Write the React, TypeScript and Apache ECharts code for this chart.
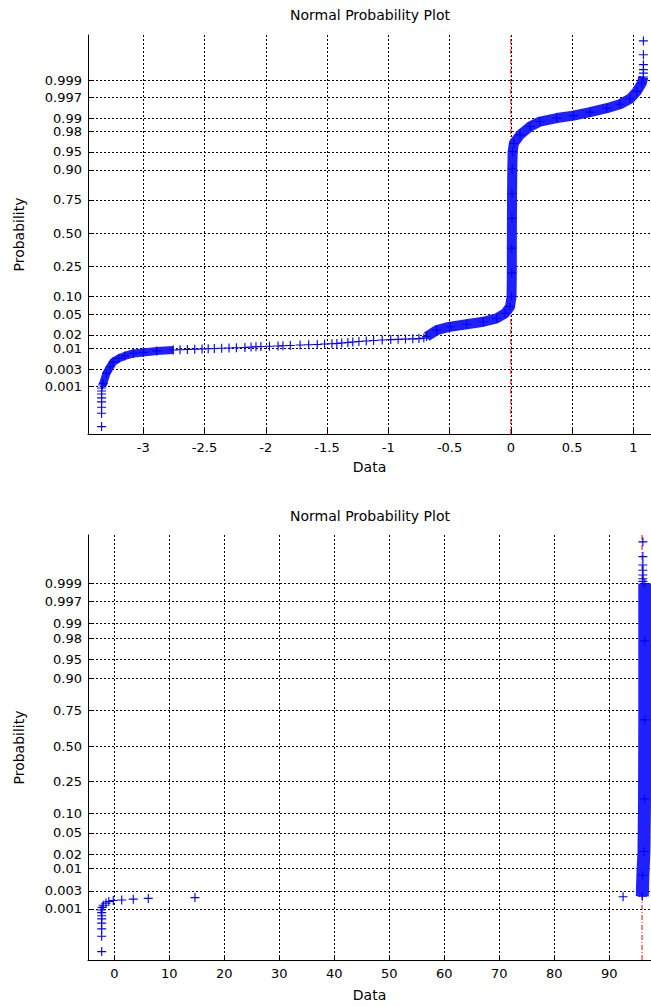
import React, { useEffect, useRef } from "react";
import * as echarts from "echarts";

// ---------- axis ticks ----------
const probLabels = ["0.001", "0.003", "0.01", "0.02", "0.05", "0.10", "0.25", "0.50", "0.75", "0.90", "0.95", "0.98", "0.99", "0.997", "0.999"];
const xTicks1 = [-3, -2.5, -2, -1.5, -1, -0.5, 0, 0.5, 1];
const xTicks2 = [0, 10, 20, 30, 40, 50, 60, 70, 80, 90];

// ---------- chart 1 data (data value, normal quantile of plotting position) ----------
const sparse1Data = [
  -3.34, -3.34, -3.34, -3.34, -3.34, -3.34, -3.34, -3.34,
  -2.70, -2.64, -2.58, -2.52, -2.47, -2.42, -2.36, -2.30, -2.24, -2.17, -2.12, -2.08, -2.04, -1.97,
  -1.90, -1.86, -1.80, -1.72, -1.65, -1.58, -1.52, -1.46, -1.42, -1.38, -1.33, -1.29, -1.24, -1.18,
  -1.12, -1.05, -0.98, -0.92, -0.86, -0.80, -0.75, -0.71,
  1.082, 1.082, 1.082, 1.082, 1.082,
];
const sparse1Q = [
  -3.91, -3.64, -3.52, -3.41, -3.33, -3.25, -3.19, -3.13,
  -2.355, -2.35, -2.345, -2.34, -2.335, -2.33, -2.325, -2.32, -2.315, -2.31, -2.30, -2.295, -2.29, -2.285,
  -2.28, -2.275, -2.27, -2.26, -2.255, -2.25, -2.24, -2.235, -2.23, -2.22, -2.21, -2.20, -2.19, -2.18,
  -2.17, -2.16, -2.15, -2.145, -2.14, -2.135, -2.13, -2.12,
  3.24, 3.31, 3.41, 3.61, 3.89,
];
const dense1aData = [-3.333, -3.327, -3.30, -3.27, -3.245, -3.20, -3.15, -3.08, -3.00, -2.89, -2.755];
const dense1aQ = [-3.07, -3.04, -2.83, -2.70, -2.60, -2.53, -2.48, -2.43, -2.41, -2.38, -2.36];
const dense1bData = [
  -0.687, -0.605, -0.496, -0.36, -0.224, -0.115, -0.047, -0.007, 0.006, 0.008, 0.008, 0.009, 0.010,
  0.012, 0.015, 0.025, 0.075, 0.157, 0.238, 0.375, 0.51, 0.647, 0.783, 0.89, 0.973, 1.028, 1.069, 1.082,
];
const dense1bQ = [
  -2.09, -1.96, -1.89, -1.84, -1.79, -1.72, -1.62, -1.485, -1.28, -0.8, -0.3, 0.3, 0.8,
  1.3, 1.65, 1.82, 1.99, 2.16, 2.26, 2.33, 2.38, 2.45, 2.53, 2.61, 2.72, 2.87, 3.04, 3.16,
];
const refLine1X = 0.0;

// ---------- chart 2 data ----------
const sparse2Data = [
  -2.29, -2.29, -2.29, -2.29, -2.29, -2.29, -2.29,
  -2.4, -2.2, -2.0, -1.5, -1.0, -0.18, 1.35, 3.45, 6.18, 14.67, 92.5,
  96.1, 96.1, 96.1, 96.1, 96.1, 96.1, 96.1,
];
const sparse2Q = [
  -3.90, -3.61, -3.47, -3.36, -3.28, -3.22, -3.16,
  -3.11, -3.06, -3.02, -2.98, -2.95, -2.93, -2.92, -2.905, -2.89, -2.875, -2.86,
  3.13, 3.18, 3.25, 3.34, 3.44, 3.60, 3.88,
];
const dense2Data = [96.0, 96.1, 96.3, 96.4, 96.45, 96.45, 96.45];
const dense2Q = [-2.85, -2.45, -2.0, -1.0, 0.5, 2.0, 3.09];
const refLine2X = 95.95;

// ---------- helpers ----------
function norminv(p: number): number {
  const a = [-3.969683028665376e1, 2.209460984245205e2, -2.759285104469687e2, 1.38357751867269e2, -3.066479806614716e1, 2.506628277459239];
  const b = [-5.447609879822406e1, 1.615858368580409e2, -1.556989798598866e2, 6.680131188771972e1, -1.328068155288572e1];
  const c = [-7.784894002430293e-3, -3.223964580411365e-1, -2.400758277161838, -2.549671035006795, 4.374664141464968, 2.938163982698783];
  const d = [7.784695709041462e-3, 3.224671290700398e-1, 2.445134137142996, 3.754408661907416];
  const pl = 0.02425;
  if (p < pl) {
    const q = Math.sqrt(-2 * Math.log(p));
    return (((((c[0] * q + c[1]) * q + c[2]) * q + c[3]) * q + c[4]) * q + c[5]) / ((((d[0] * q + d[1]) * q + d[2]) * q + d[3]) * q + 1);
  }
  if (p > 1 - pl) {
    const q = Math.sqrt(-2 * Math.log(1 - p));
    return -(((((c[0] * q + c[1]) * q + c[2]) * q + c[3]) * q + c[4]) * q + c[5]) / ((((d[0] * q + d[1]) * q + d[2]) * q + d[3]) * q + 1);
  }
  const q = p - 0.5;
  const r = q * q;
  return ((((((a[0] * r + a[1]) * r + a[2]) * r + a[3]) * r + a[4]) * r + a[5]) * q) / (((((b[0] * r + b[1]) * r + b[2]) * r + b[3]) * r + b[4]) * r + 1);
}

const zTicks = probLabels.map((s) => norminv(parseFloat(s)));
const Y_MIN = -4.06;
const Y_MAX = 4.01;
const FONT = "DejaVu Sans";
const FS = 14;
const TICK_FS = 13;
const BLUE = "#0000ff";
const PLUS = "path://M3.5,0H4.5V3.5H8V4.5H4.5V8H3.5V4.5H0V3.5H3.5Z";

const zip = (xs: number[], ys: number[]) => xs.map((x, i) => [x, ys[i]]);

const gridLine = { show: true, lineStyle: { color: "#000", type: [2, 2], width: 1 } };

function mkX(gi: number, min: number, max: number, ticks: number[], nameGap: number) {
  return {
    type: "value",
    gridIndex: gi,
    min,
    max,
    name: "Data",
    nameLocation: "middle",
    nameGap,
    nameTextStyle: { color: "#000", fontSize: FS, fontFamily: FONT },
    axisLine: { show: true, onZero: false, lineStyle: { color: "#000", width: 1 } },
    axisTick: { show: true, inside: true, length: 5, customValues: ticks, lineStyle: { color: "#000" } },
    axisLabel: { customValues: ticks, color: "#000", fontSize: TICK_FS, fontFamily: FONT, margin: 7, formatter: (v: number) => String(v) },
    splitLine: gridLine,
  };
}

function mkY(gi: number) {
  return {
    type: "value",
    gridIndex: gi,
    min: Y_MIN,
    max: Y_MAX,
    name: "Probability",
    nameLocation: "middle",
    nameRotate: 90,
    nameGap: 62,
    nameTextStyle: { color: "#000", fontSize: FS, fontFamily: FONT },
    axisLine: { show: true, onZero: false, lineStyle: { color: "#000", width: 1 } },
    axisTick: { show: true, inside: true, length: 5, customValues: zTicks, lineStyle: { color: "#000" } },
    axisLabel: {
      customValues: zTicks,
      color: "#000",
      fontSize: TICK_FS,
      lineHeight: 12,
      fontFamily: FONT,
      margin: 6,
      formatter: (v: number) => {
        let best = 0;
        zTicks.forEach((z, i) => {
          if (Math.abs(z - v) < Math.abs(zTicks[best] - v)) best = i;
        });
        return probLabels[best];
      },
    },
    splitLine: gridLine,
  };
}

function refLine(gi: number, x: number) {
  return {
    type: "line",
    xAxisIndex: gi,
    yAxisIndex: gi,
    data: [[x, Y_MIN], [x, Y_MAX]],
    symbol: "none",
    lineStyle: { color: "#ff0000", width: 1, type: [5, 2, 1, 2] },
    z: 1,
    silent: true,
  };
}

function dense(gi: number, xs: number[], qs: number[], width: number) {
  return {
    type: "line",
    xAxisIndex: gi,
    yAxisIndex: gi,
    data: zip(xs, qs),
    symbol: PLUS,
    symbolSize: 9,
    showSymbol: true,
    itemStyle: { color: BLUE },
    lineStyle: { color: "#2020ff", width, cap: "butt", join: "round" },
    z: 3,
    silent: true,
  };
}

function sparse(gi: number, xs: number[], qs: number[]) {
  return {
    type: "scatter",
    xAxisIndex: gi,
    yAxisIndex: gi,
    data: zip(xs, qs),
    symbol: PLUS,
    symbolSize: 9,
    itemStyle: { color: BLUE, opacity: 1 },
    z: 4,
    silent: true,
  };
}

export default function App() {
  const ref = useRef<HTMLDivElement>(null);
  useEffect(() => {
    if (!ref.current) return;
    const chart = echarts.init(ref.current, undefined, { renderer: "svg" });
    const titleFont = `${FS}px "${FONT}"`;
    chart.setOption({
      animation: false,
      backgroundColor: "#ffffff",
      textStyle: { fontFamily: FONT },
      grid: [
        { left: 88, top: 35, width: 563, height: 399 },
        { left: 88, top: 535, width: 563, height: 425 },
      ],
      xAxis: [mkX(0, -3.451, 1.144, xTicks1, 26), mkX(1, -4.78, 97.58, xTicks2, 28)],
      yAxis: [mkY(0), mkY(1)],
      graphic: [
        { type: "text", x: 370, y: 15, style: { text: "Normal Probability Plot", font: titleFont, fill: "#000", align: "center", verticalAlign: "middle" } },
        { type: "text", x: 370, y: 516, style: { text: "Normal Probability Plot", font: titleFont, fill: "#000", align: "center", verticalAlign: "middle" } },
      ],
      series: [
        refLine(0, refLine1X),
        dense(0, dense1aData, dense1aQ, 8),
        dense(0, dense1bData, dense1bQ, 10),
        sparse(0, sparse1Data, sparse1Q),
        refLine(1, refLine2X),
        dense(1, dense2Data, dense2Q, 13),
        sparse(1, sparse2Data, sparse2Q),
      ],
    });
    return () => chart.dispose();
  }, []);
  return <div ref={ref} style={{ position: "absolute", left: 0, top: 0, width: 651, height: 1006, background: "#fff" }} />;
}
